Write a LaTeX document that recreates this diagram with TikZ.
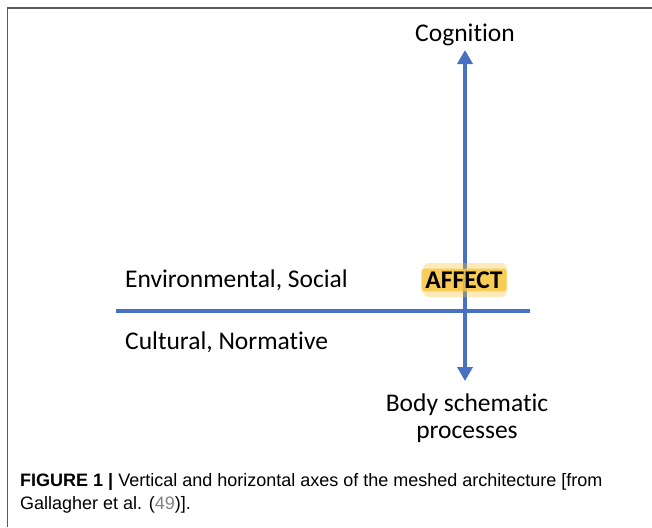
\documentclass[tikz,border=0pt]{standalone}
\usepackage{fontspec}
\setmainfont{Carlito}[Ligatures=NoCommon]
\newfontfamily\captionfont{Liberation Sans}
\usetikzlibrary{arrows.meta}
\definecolor{axisblue}{RGB}{72,113,196}
\definecolor{glowyellow}{RGB}{247,196,60}
\definecolor{framegray}{RGB}{90,90,90}
\definecolor{linkgray}{RGB}{130,130,130}
\tikzset{
  axis/.style={line width=4pt, color=axisblue, {Triangle[width=15pt,length=14pt]}-{Triangle[width=15pt,length=14pt]}},
  axisplain/.style={line width=4pt, color=axisblue},
  label/.style={font=\fontsize{25.5}{27}\selectfont, inner sep=0pt, align=center}
}
\begin{document}
\begin{tikzpicture}[x=1pt,y=-1pt]
                \useasboundingbox (0.000000,0.000000) rectangle (652.000000,527.000000);

                % Drawing frame
                \draw [line width=1.6pt, color=framegray] (7.500000,527.000000) -- (7.500000,8.000000) -- (652.000000,8.000000);%

                % Drawing horizontal axis
                \coordinate (hleft) at (116.000000,311.000000);
                \coordinate (hright) at (530.000000,311.000000);
                \draw [axisplain] (hleft) -- (hright);%

                % Drawing vertical axis
                \coordinate (vtop) at (465.000000,50.000000);
                \coordinate (vbot) at (465.000000,381.000000);
                \draw [axis] (vbot) -- (vtop);%

                % Marking affect highlight (soft glow)
                \fill [glowyellow, opacity=0.35, rounded corners=6pt] (423.000000,263.000000) rectangle (507.000000,297.000000);%
                \node [label, font=\fontsize{25.5}{27}\selectfont\bfseries, fill=glowyellow, fill opacity=0.8, text opacity=1, rounded corners=3pt, inner xsep=4pt, inner ysep=3pt] (affect) at (464.000000,280.000000) {AFFECT};%

                % Marking labels
                \node [label] (cognition) at (465.000000,35.000000) {Cognition};%
                \node [label, anchor=west] (environ) at (125.000000,280.000000) {Environmental, Social};%
                \node [label, anchor=west] (cultural) at (125.000000,342.000000) {Cultural, Normative};%
                \node [label, align=center] (body) at (467.000000,418.000000) {Body schematic\\processes};%

                % Marking caption
                \node [anchor=base west, inner sep=0pt, align=left, font=\captionfont\fontsize{18}{23}\selectfont] (caption) at (20.000000,509.500000) {\textbf{FIGURE 1 |} Vertical and horizontal axes of the meshed architecture [from\\Gallagher et al. (\textcolor{linkgray}{49})].};%
\end{tikzpicture}
\end{document}
